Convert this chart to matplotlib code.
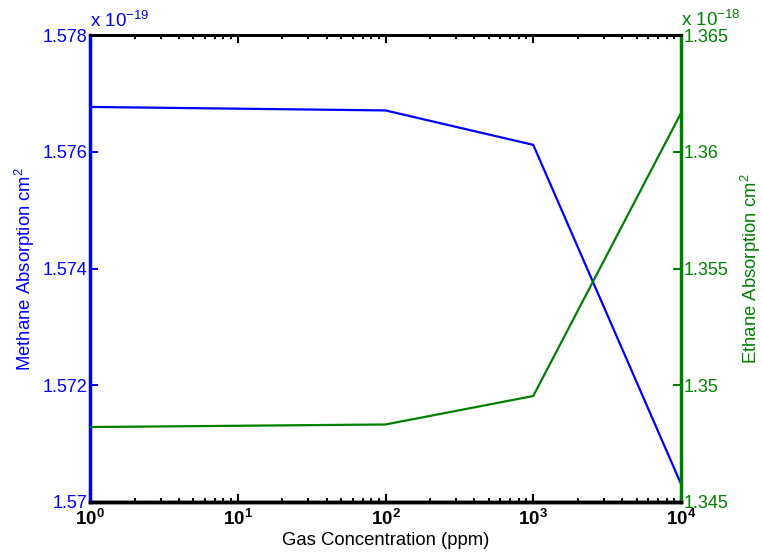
import matplotlib
matplotlib.use("Agg")
import matplotlib.pyplot as plt
import numpy as np

plt.rcParams['font.family'] = ['Liberation Sans', 'DejaVu Sans']
plt.rcParams['mathtext.fontset'] = 'custom'
plt.rcParams['mathtext.rm'] = 'Liberation Sans'
plt.rcParams['mathtext.bf'] = 'Liberation Sans:bold'

# concentration (ppm)
conc = [1, 100, 1000, 10000]
# absorption, in units of 1e-19 and 1e-18 cm^2
methane = [1.57677, 1.57671, 1.57612, 1.57031]
ethane = [1.34821, 1.34832, 1.34954, 1.36166]

blue = '#0000ff'
green = '#008000'

fig = plt.figure(figsize=(7.63, 5.58), dpi=100)
ax1 = fig.add_axes([0.118, 0.1004, 0.7745, 0.8366])
ax2 = ax1.twinx()

ax1.plot(conc, methane, color=blue, lw=1.6)
ax2.plot(conc, ethane, color=green, lw=1.6)

ax1.set_xscale('log')
ax1.set_xlim(1, 1e4)
ax1.set_ylim(1.570, 1.578)
ax2.set_ylim(1.345, 1.365)
ax1.set_yticks([1.570, 1.572, 1.574, 1.576, 1.578])
ax1.set_yticklabels(['1.57', '1.572', '1.574', '1.576', '1.578'])
ax2.set_yticks([1.345, 1.35, 1.355, 1.36, 1.365])
ax2.set_yticklabels(['1.345', '1.35', '1.355', '1.36', '1.365'])
ax1.set_xticks([1, 10, 100, 1000, 10000])
ax1.set_xticklabels([r'$\mathbf{10^{%d}}$' % i for i in range(5)])

for ax in (ax1, ax2):
    ax.spines['top'].set_linewidth(2)
    ax.spines['bottom'].set_linewidth(2.5)
ax1.spines['left'].set_color(blue)
ax1.spines['left'].set_linewidth(2.5)
ax2.spines['right'].set_color(green)
ax2.spines['right'].set_linewidth(2.5)
ax2.spines['left'].set_visible(False)
ax1.spines['right'].set_visible(False)

ax1.tick_params(axis='x', which='both', direction='in', top=True, width=1.5,
                labelsize=13.5, pad=5)
ax1.tick_params(axis='x', which='major', length=6)
ax1.tick_params(axis='x', which='minor', length=3)
ax1.tick_params(axis='y', direction='in', colors=blue, labelsize=13, length=6,
                width=1.5, pad=2)
ax2.tick_params(axis='y', direction='in', colors=green, labelsize=13, length=6,
                width=1.5, pad=2)

ax1.set_xlabel('Gas Concentration (ppm)', fontsize=13.3, labelpad=2)
ax1.set_ylabel('Methane Absorption cm$^2$', fontsize=13.3, color=blue, labelpad=4)
ax2.set_ylabel('Ethane Absorption cm$^2$', fontsize=13.3, color=green, labelpad=7)

ax1.text(0.0, 1.008, r'x 10$^{-19}$', transform=ax1.transAxes, color=blue,
         fontsize=13.5, ha='left', va='bottom')
ax2.text(1.0, 1.012, r'x 10$^{-18}$', transform=ax2.transAxes, color=green,
         fontsize=13.5, ha='left', va='bottom')

fig.savefig('out.png', dpi=100)
